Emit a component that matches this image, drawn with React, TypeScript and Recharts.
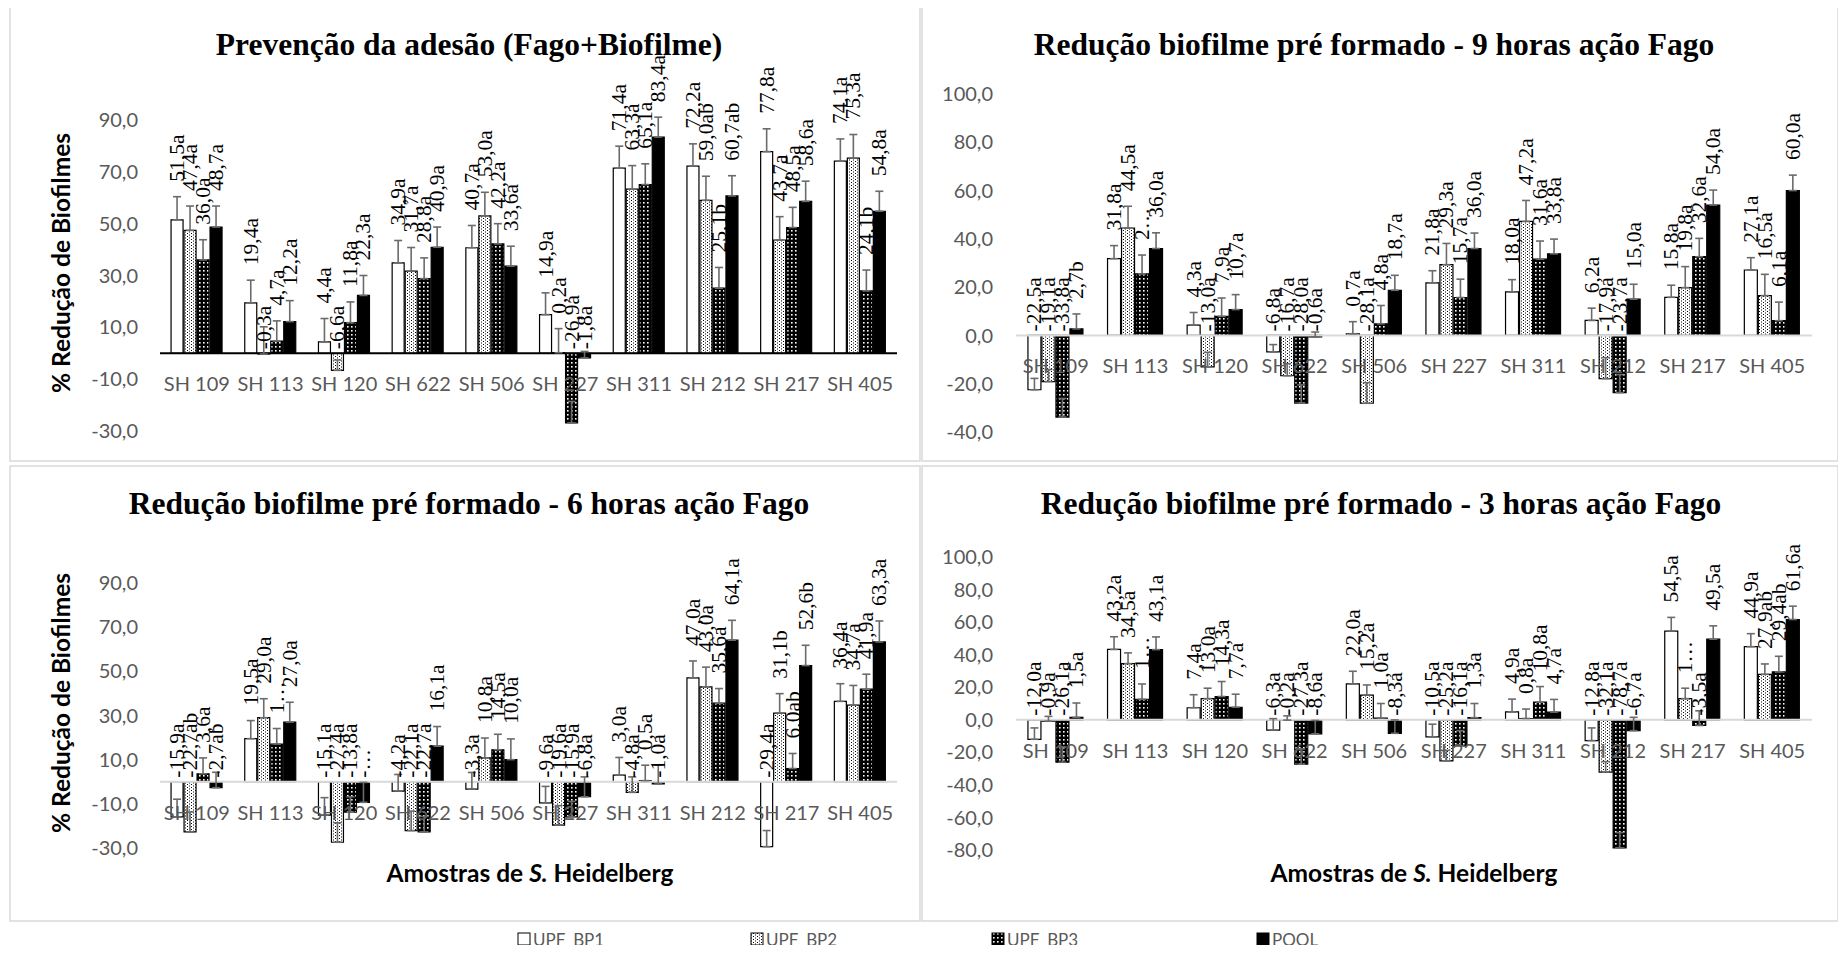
import React from "react";
import {
  Bar,
  BarChart,
  ErrorBar,
  LabelList,
  ReferenceLine,
  XAxis,
  YAxis,
} from "recharts";

const categories = [
  "SH 109", "SH 113", "SH 120", "SH 622", "SH 506",
  "SH 227", "SH 311", "SH 212", "SH 217", "SH 405",
];
const seriesNames = ["UPF_BP1", "UPF_BP2", "UPF_BP3", "POOL"];

// Prevenção da adesão (Fago+Biofilme)
const adhValues = [
  [51.5, 19.4, 4.4, 34.9, 40.7, 14.9, 71.4, 72.2, 77.8, 74.1],
  [47.4, -0.3, -6.6, 31.7, 53.0, 0.2, 63.3, 59.0, 43.7, 75.3],
  [36.0, 4.7, 11.8, 28.8, 42.2, -26.9, 65.1, 25.1, 48.5, 24.1],
  [48.7, 12.2, 22.3, 40.9, 33.6, -1.8, 83.4, 60.7, 58.6, 54.8],
];
const adhErrors = [
  [8.9, 8.8, 9.0, 8.6, 8.6, 8.4, 8.5, 8.6, 8.8, 8.6],
  [9.4, 10.5, 4.0, 9.1, 9.1, 9.3, 9.1, 9.3, 9.0, 9.1],
  [7.8, 7.8, 8.0, 8.0, 7.8, 8.3, 8.0, 8.0, 7.8, 8.0],
  [8.1, 8.1, 7.7, 7.8, 7.7, 2.5, 7.7, 7.8, 7.8, 7.7],
];
const adhLabels = [
  ["51,5a", "19,4a", "4,4a", "34,9a", "40,7a", "14,9a", "71,4a", "72,2a", "77,8a", "74,1a"],
  ["47,4a", "-0,3a", "-6,6a", "31,7a", "53,0a", "0,2a", "63,3a", "59,0ab", "43,7a", "75,3a"],
  ["36,0a", "4,7a", "11,8a", "28,8a", "42,2a", "-26,9a", "65,1a", "25,1b", "48,5a", "24,1b"],
  ["48,7a", "12,2a", "22,3a", "40,9a", "33,6a", "-1,8a", "83,4a", "60,7ab", "58,6a", "54,8a"],
];

// 9 horas
const h9Values = [
  [-22.5, 31.8, 4.3, -6.8, 0.7, 21.8, 18.0, 6.2, 15.8, 27.1],
  [-19.1, 44.5, -13.0, -16.7, -28.1, 29.3, 47.2, -17.9, 19.8, 16.5],
  [-33.8, 25.5, 7.9, -28.0, 4.8, 15.7, 31.6, -23.7, 32.6, 6.1],
  [2.7, 36.0, 10.7, -0.6, 18.7, 36.0, 33.8, 15.0, 54.0, 60.0],
];
const h9Errors = [
  [4.7, 5.4, 5.2, 3.0, 5.0, 5.0, 5.1, 5.1, 5.0, 5.1],
  [5.0, 9.0, 6.0, 5.0, 8.5, 8.8, 8.7, 8.7, 8.7, 8.8],
  [7.7, 7.8, 7.6, 7.5, 7.6, 7.6, 7.5, 7.5, 7.6, 7.7],
  [6.2, 6.5, 6.2, 2.0, 6.2, 6.4, 6.1, 6.2, 6.2, 6.4],
];
const h9Labels = [
  ["-22,5a", "31,8a", "4,3a", "-6,8a", "0,7a", "21,8a", "18,0a", "6,2a", "15,8a", "27,1a"],
  ["-19,1a", "44,5a", "-13,0a", "-16,7a", "-28,1a", "29,3a", "47,2a", "-17,9a", "19,8a", "16,5a"],
  ["-33,8a", "2…", "7,9a", "-28,0a", "4,8a", "15,7a", "31,6a", "-23,7a", "32,6a", "6,1a"],
  ["2,7b", "36,0a", "10,7a", "-0,6a", "18,7a", "36,0a", "33,8a", "15,0a", "54,0a", "60,0a"],
];

// 6 horas
const h6Values = [
  [-15.9, 19.5, -15.1, -4.2, -3.3, -9.6, 3.0, 47.0, -29.4, 36.4],
  [-22.7, 29.0, -27.4, -22.1, 10.8, -19.6, -4.8, 43.0, 31.1, 34.7],
  [3.6, 17.1, -13.8, -22.7, 14.5, -15.9, 0.5, 35.6, 6.0, 41.9],
  [-2.7, 27.0, -9.3, 16.1, 10.0, -6.8, -1.0, 64.1, 52.6, 63.3],
];
const h6Errors = [
  [8.0, 8.2, 7.9, 7.5, 7.5, 7.5, 8.0, 7.7, 7.3, 8.0],
  [9.0, 8.6, 8.8, 8.8, 9.0, 8.8, 7.0, 8.9, 8.8, 8.9],
  [7.2, 7.0, 7.0, 7.0, 7.0, 7.0, 7.0, 6.6, 6.8, 6.8],
  [7.0, 9.0, 9.0, 8.9, 9.4, 9.0, 8.5, 9.0, 9.2, 9.5],
];
const h6Labels = [
  ["-15,9a", "19,5a", "-15,1a", "-4,2a", "-3,3a", "-9,6a", "3,0a", "47,0a", "-29,4a", "36,4a"],
  ["-22,7ab", "29,0a", "-27,4a", "-22,1a", "10,8a", "-19,6a", "-4,8a", "43,0a", "31,1b", "34,7a"],
  ["3,6a", "1…", "-13,8a", "-22,7a", "14,5a", "-15,9a", "0,5a", "35,6a", "6,0ab", "41,9a"],
  ["-2,7ab", "27,0a", "-…", "16,1a", "10,0a", "-6,8a", "-1,0a", "64,1a", "52,6b", "63,3a"],
];

// 3 horas
const h3Values = [
  [-12.0, 43.2, 7.4, -6.3, 22.0, -10.5, 4.9, -12.8, 54.5, 44.9],
  [-0.9, 34.5, 13.0, -0.2, 15.2, -25.2, 0.8, -32.1, 13.0, 27.9],
  [-26.1, 12.6, 14.3, -27.3, 1.0, -16.1, 10.8, -78.7, -3.5, 29.4],
  [1.5, 43.1, 7.7, -8.6, -8.3, 1.3, 4.7, -6.7, 49.5, 61.6],
];
const h3Errors = [
  [7.0, 7.8, 8.0, 7.0, 7.8, 7.8, 7.8, 7.8, 8.4, 8.0],
  [3.0, 6.6, 6.4, 2.6, 6.2, 6.4, 5.8, 6.4, 6.4, 6.4],
  [9.4, 9.4, 9.2, 9.4, 9.0, 9.4, 9.6, 9.4, 9.0, 9.6],
  [8.8, 7.8, 8.0, 8.2, 8.2, 8.7, 7.8, 8.2, 8.2, 8.2],
];
const h3Labels = [
  ["-12,0a", "43,2a", "7,4a", "-6,3a", "22,0a", "-10,5a", "4,9a", "-12,8a", "54,5a", "44,9a"],
  ["-0,9a", "34,5a", "13,0a", "-0,2a", "15,2a", "-25,2a", "0,8a", "-32,1a", "1…", "27,9ab"],
  ["-26,1a", "1…", "14,3a", "-27,3a", "1,0a", "-16,1a", "10,8a", "-78,7a", "-3,5a", "29,4ab"],
  ["1,5a", "43,1a", "7,7a", "-8,6a", "-8,3a", "1,3a", "4,7a", "-6,7a", "49,5a", "61,6a"],
];

const SANS = "Lato, 'Open Sans', sans-serif";
const SERIF = "'Liberation Serif', 'DejaVu Serif', serif";
const GREY = "#595959";
const X_AXIS_H = 20;

function buildRows(values: number[][], errors: number[][], labels: string[][]) {
  return categories.map((name, i) => {
    const row: Record<string, unknown> = { name };
    values.forEach((s, k) => {
      row[`v${k}`] = s[i];
      row[`e${k}`] = [0, errors[k][i]]; // plus direction only
      row[`l${k}`] = labels[k][i];
    });
    return row;
  });
}

function Patterns({ prefix }: { prefix: string }) {
  return (
    <defs>
      <pattern id={`${prefix}-p2`} width={4} height={3} patternUnits="userSpaceOnUse">
        <rect width={4} height={3} fill="#fff" />
        <rect x={1} y={0} width={1} height={1} fill="#000" />
        <rect x={3} y={1.5} width={1} height={1} fill="#000" />
      </pattern>
      <pattern id={`${prefix}-p3`} width={4} height={4} patternUnits="userSpaceOnUse">
        <rect width={4} height={4} fill="#000" />
        <rect x={1} y={1} width={1.6} height={1.6} fill="#fff" />
      </pattern>
    </defs>
  );
}

const fills = (prefix: string) => ["#fff", `url(#${prefix}-p2)`, `url(#${prefix}-p3)`, "#000"];

interface PanelCfg {
  id: string;
  left: number;
  top: number;
  w: number;
  h: number;
  // plot area edges inside the panel box
  plotTop: number;
  plotBottom: number;
  plotLeft: number;
  plotRight: number;
  tickMargin: number;
  domain: [number, number];
  ticks: number[];
  axisColor: string;
  values: number[][];
  errors: number[][];
  labels: string[][];
}

const panels: PanelCfg[] = [
  {
    id: "adh", left: 10, top: 5, w: 910, h: 456,
    plotTop: 115, plotBottom: 426, plotLeft: 150, plotRight: 887,
    tickMargin: 22, domain: [-30, 90],
    ticks: [-30, -10, 10, 30, 50, 70, 90], axisColor: "#000",
    values: adhValues, errors: adhErrors, labels: adhLabels,
  },
  {
    id: "h9", left: 922, top: 5, w: 916, h: 456,
    plotTop: 89, plotBottom: 427, plotLeft: 94, plotRight: 890,
    tickMargin: 23, domain: [-40, 100],
    ticks: [-40, -20, 0, 20, 40, 60, 80, 100], axisColor: "#d9d9d9",
    values: h9Values, errors: h9Errors, labels: h9Labels,
  },
  {
    id: "h6", left: 10, top: 466, w: 910, h: 455,
    plotTop: 117, plotBottom: 382, plotLeft: 150, plotRight: 887,
    tickMargin: 22, domain: [-30, 90],
    ticks: [-30, -10, 10, 30, 50, 70, 90], axisColor: "#d9d9d9",
    values: h6Values, errors: h6Errors, labels: h6Labels,
  },
  {
    id: "h3", left: 922, top: 466, w: 916, h: 455,
    plotTop: 91, plotBottom: 384, plotLeft: 94, plotRight: 890,
    tickMargin: 23, domain: [-80, 100],
    ticks: [-80, -60, -40, -20, 0, 20, 40, 60, 80, 100], axisColor: "#d9d9d9",
    values: h3Values, errors: h3Errors, labels: h3Labels,
  },
];

function Panel({ cfg }: { cfg: PanelCfg }) {
  const data = buildRows(cfg.values, cfg.errors, cfg.labels);
  const [min, max] = cfg.domain;
  const plotH = cfg.plotBottom - cfg.plotTop;
  const ppu = plotH / (max - min);
  const zeroY = cfg.plotTop + max * ppu;
  const f = fills(cfg.id);
  const margin = {
    top: cfg.plotTop,
    right: cfg.w - cfg.plotRight,
    bottom: cfg.h - cfg.plotBottom - X_AXIS_H,
    left: 0,
  };

  const CatTick = (p: any) => (
    <text
      x={p.x}
      y={zeroY + 30}
      textAnchor="middle"
      dominantBaseline="central"
      fill={GREY}
      fontSize={20}
      fontFamily={SANS}
    >
      {p.payload.value}
    </text>
  );

  const makeLabel = (k: number) => (p: any) => {
    const idx = p.index as number;
    const v = cfg.values[k][idx];
    const e = cfg.errors[k][idx];
    const top = Math.min(p.y, p.y + p.height);
    const base = v >= 0 ? top - e * ppu - 15 : top - 4;
    const cx = p.x + p.width / 2;
    return (
      <text
        transform={`translate(${cx},${base}) rotate(-90)`}
        textAnchor="start"
        dominantBaseline="central"
        fontSize={21.5}
        fontFamily={SERIF}
        fill="#000"
      >
        {p.value}
      </text>
    );
  };

  return (
    <div style={{ position: "absolute", left: cfg.left, top: cfg.top }}>
      <BarChart
        width={cfg.w}
        height={cfg.h}
        data={data}
        margin={margin}
        barCategoryGap="15%"
        barGap={1}
      >
        <Patterns prefix={cfg.id} />
        <XAxis
          dataKey="name"
          axisLine={false}
          tickLine={false}
          height={X_AXIS_H}
          interval={0}
          tick={CatTick}
        />
        <YAxis
          type="number"
          domain={cfg.domain}
          ticks={cfg.ticks}
          interval={0}
          allowDataOverflow
          width={cfg.plotLeft}
          axisLine={false}
          tickLine={false}
          tickSize={0}
          tickMargin={cfg.tickMargin}
          tick={{ fill: GREY, fontSize: 20, fontFamily: SANS }}
          tickFormatter={(v: number) => v.toFixed(1).replace(".", ",")}
        />
        <ReferenceLine y={0} stroke={cfg.axisColor} strokeWidth={2} />
        {seriesNames.map((s, k) => (
          <Bar
            key={s}
            dataKey={`v${k}`}
            name={s}
            fill={f[k]}
            stroke="#000"
            strokeWidth={1.2}
            isAnimationActive={false}
          >
            <ErrorBar
              dataKey={`e${k}`}
              direction="y"
              width={4}
              stroke="#6b6b6b"
              strokeWidth={1.6}
            />
            <LabelList dataKey={`l${k}`} content={makeLabel(k)} />
          </Bar>
        ))}
      </BarChart>
    </div>
  );
}

const titles = [
  { text: "Prevenção da adesão (Fago+Biofilme)", x: 469, y: 55 },
  { text: "Redução biofilme pré formado - 9 horas ação Fago", x: 1374, y: 55 },
  { text: "Redução biofilme pré formado - 6 horas ação Fago", x: 469, y: 514 },
  { text: "Redução biofilme pré formado - 3 horas ação Fago", x: 1381, y: 514 },
];
const legendX = [518, 751, 992, 1257];

function Overlay() {
  const lf = fills("lg");
  return (
    <svg width={1846} height={953} style={{ position: "absolute", left: 0, top: 0 }}>
      <Patterns prefix="lg" />
      <rect x={0} y={0} width={1846} height={953} fill="#fff" />
      {panels.map((p) => (
        <rect
          key={p.id}
          x={p.left}
          y={p.top}
          width={p.w}
          height={p.h}
          fill="none"
          stroke="#d9d9d9"
          strokeWidth={1.5}
        />
      ))}
      {titles.map((t) => (
        <text
          key={t.text}
          x={t.x}
          y={t.y}
          textAnchor="middle"
          fontFamily={SERIF}
          fontWeight="bold"
          fontSize={31.5}
          fill="#000"
        >
          {t.text}
        </text>
      ))}
      {[263, 703].map((cy) => (
        <text
          key={cy}
          transform={`translate(60,${cy}) rotate(-90)`}
          textAnchor="middle"
          dominantBaseline="central"
          fontFamily={SANS}
          fontWeight="bold"
          fontSize={24.5}
          fill="#000"
        >
          % Redução de Biofilmes
        </text>
      ))}
      {[530, 1414].map((cx) => (
        <text
          key={cx}
          x={cx}
          y={872}
          textAnchor="middle"
          dominantBaseline="central"
          fontFamily={SANS}
          fontWeight="bold"
          fontSize={24.5}
          fill="#000"
        >
          Amostras de <tspan fontStyle="italic">S.</tspan> Heidelberg
        </text>
      ))}
      {seriesNames.map((s, k) => (
        <g key={s}>
          <rect
            x={legendX[k]}
            y={933}
            width={12}
            height={12}
            fill={lf[k]}
            stroke="#000"
            strokeWidth={1}
          />
          <text
            x={legendX[k] + 15}
            y={939}
            dominantBaseline="central"
            fontFamily={SANS}
            fontSize={17}
            fill={GREY}
          >
            {s}
          </text>
        </g>
      ))}
    </svg>
  );
}

export default function App() {
  return (
    <div
      style={{
        position: "relative",
        width: 1846,
        height: 953,
        margin: -8,
        background: "#fff",
        overflow: "hidden",
      }}
    >
      <Overlay />
      {panels.map((p) => (
        <Panel key={p.id} cfg={p} />
      ))}
    </div>
  );
}
